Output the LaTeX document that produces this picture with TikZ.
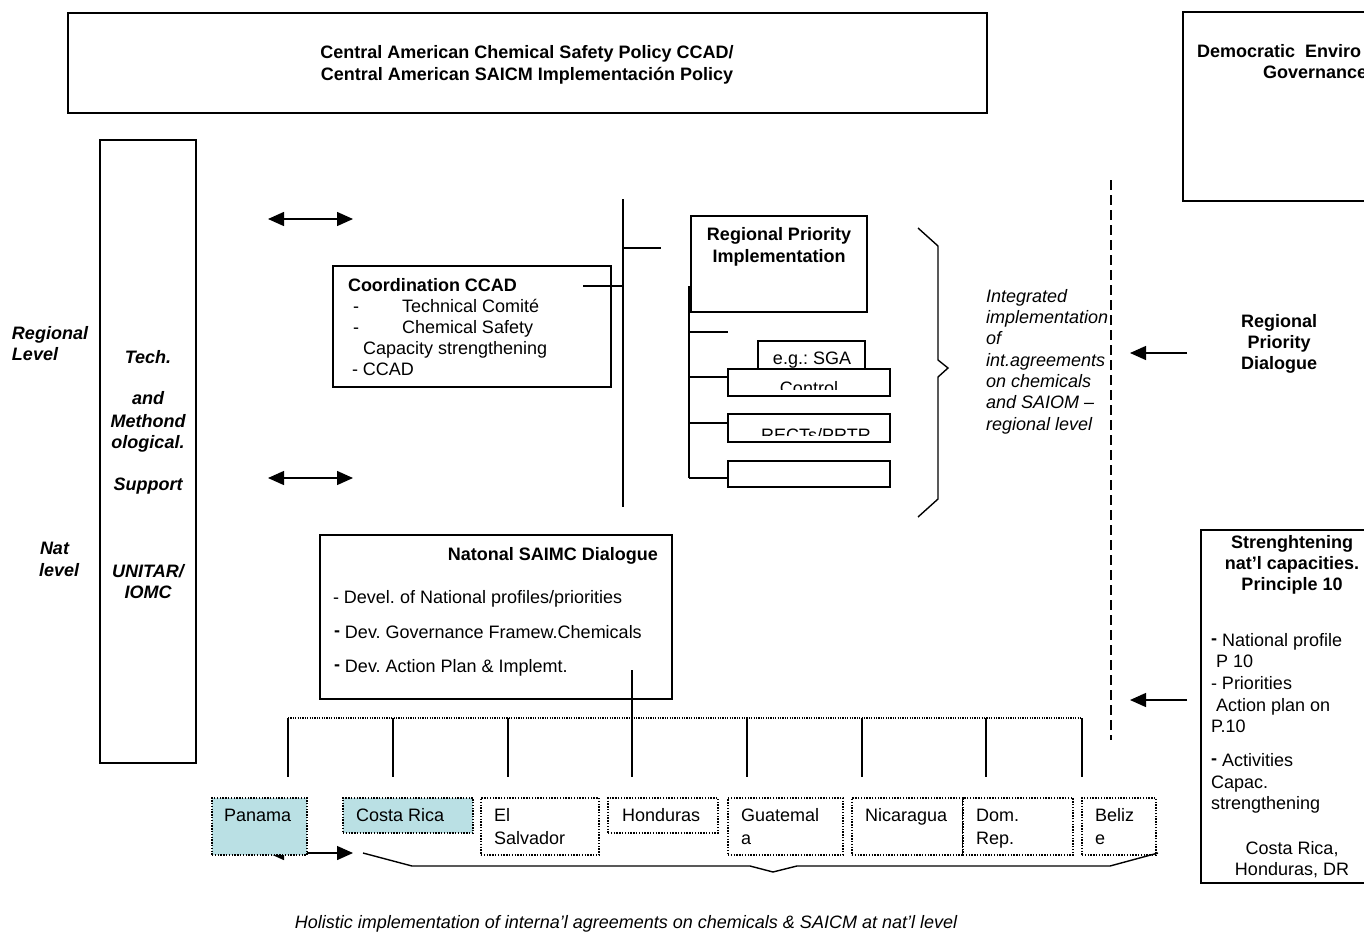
\documentclass[tikz,border=0pt]{standalone}
\usepackage{fontspec}
\setmainfont{Liberation Sans}
\usetikzlibrary{arrows.meta}
\definecolor{cyanbox}{RGB}{186,224,228}
\frenchspacing
\begin{document}
\begin{tikzpicture}[x=1pt,y=-1pt,
  every node/.style={font=\fontsize{18}{21}\selectfont\frenchspacing, inner sep=0pt, outer sep=0pt},
  box/.style={draw, line width=1.4pt, anchor=north west, fill=white},
  dbox/.style={draw, line width=1.3pt, dash pattern=on 1.4pt off 1.4pt, anchor=north west, fill=white},
  ln/.style={line width=1.4pt},
  tipone/.style={line width=1.4pt, -{Triangle[length=16pt,width=14pt]}},
  tiptwo/.style={line width=1.4pt, {Triangle[length=16pt,width=14pt]}-{Triangle[length=16pt,width=14pt]}},
  bft/.style={font=\fontsize{18}{21}\selectfont\frenchspacing\bfseries},
  itt/.style={font=\fontsize{18}{21}\selectfont\frenchspacing\itshape},
  bit/.style={font=\fontsize{18}{21}\selectfont\frenchspacing\bfseries\itshape},
  txt/.style={anchor=base west},
  ctr/.style={anchor=base},
]
\useasboundingbox (0,0) rectangle (1364,943);
\clip (0,0) rectangle (1364,943);

% top box
\node[box, minimum width=919pt, minimum height=100pt] (top) at (68,13) {};
\node[bft, ctr] (t1) at (527,58.5) {Central American Chemical Safety Policy CCAD/};
\node[bft, ctr] (t2) at (527,80.5) {Central American SAICM Implementación Policy};

% democratic box
\node[box, minimum width=220pt, minimum height=189pt] (demo) at (1183,12) {};
\node[bft, txt] (d1) at (1197,57) {Democratic~ Enviro};
\node[bft, txt] (d2) at (1263,78) {Governance};

% left column
\node[box, minimum width=96pt, minimum height=623pt] (tech) at (100,140) {};
\node[bit, ctr] (l1) at (148,363) {Tech.};
\node[bit, ctr] (l2) at (148,404) {and};
\node[bit, ctr] (l3) at (148,427) {Methond};
\node[bit, ctr] (l4) at (148,448) {ological.};
\node[bit, ctr] (l5) at (148,490) {Support};
\node[bit, ctr] (l6) at (148,577) {UNITAR/};
\node[bit, ctr] (l7) at (148,598) {IOMC};
\node[bit, txt] (r1) at (12,339) {Regional};
\node[bit, txt] (r2) at (12,360) {Level};
\node[bit, txt] (n1) at (40,554) {Nat};
\node[bit, txt] (n2) at (39,576) {level};

% double arrows
\coordinate (a1l) at (268,219); \coordinate (a1r) at (353,219);
\coordinate (a2l) at (268,478); \coordinate (a2r) at (353,478);
\draw[tiptwo] (a1l) -- (a1r);
\draw[tiptwo] (a2l) -- (a2r);

% coordination box
\node[box, minimum width=278pt, minimum height=121pt] (coord) at (333,266) {};
\node[bft, txt] (c1) at (348,291) {Coordination CCAD};
\node[txt] (c2a) at (353,312) {-};
\node[txt] (c2) at (402,312) {Technical Comité};
\node[txt] (c3a) at (353,333) {-};
\node[txt] (c3) at (402,333) {Chemical Safety};
\node[txt] (c4) at (363,354) {Capacity strengthening};
\node[txt] (c5) at (352,375) {- CCAD};

% vertical bar
\coordinate (barT) at (623,199);
\coordinate (barB) at (623,507);
\coordinate (barM) at (623,286);
\coordinate (barU) at (623,248);
\coordinate (coordE) at (583,286);
\coordinate (tickE) at (661,248);
\draw[ln] (barT) -- (barB);
\draw[ln] (coordE) -- (barM);
\draw[ln] (barU) -- (tickE);

% regional priority implementation
\node[box, minimum width=176pt, minimum height=96pt] (rpi) at (691,216) {};
\node[bft, ctr] (rp1) at (779,240) {Regional Priority};
\node[bft, ctr] (rp2) at (779,262) {Implementation};

\coordinate (inT) at (689,286);
\coordinate (inB) at (689,478);
\coordinate (i1) at (689,332); \coordinate (i1e) at (728,332);
\coordinate (i2) at (689,377);
\coordinate (i3) at (689,423);
\coordinate (i4e) at (728,478);
\draw[ln] (inT) -- (inB);
\draw[ln] (i1) -- (i1e);

\node[box, minimum width=107pt, minimum height=28pt] (sga) at (758,341) {};
\node[ctr] (sgat) at (812,364) {e.g.: SGA};
\node[box, minimum width=162pt, minimum height=27pt] (ctl) at (728,369) {};
\begin{scope}
  \clip (728,369) rectangle (890,389);
  \node[ctr] (ctlt) at (809,394) {Control};
\end{scope}
\node[box, minimum width=162pt, minimum height=28pt] (rect) at (728,414) {};
\begin{scope}
  \clip (728,414) rectangle (890,435);
  \node[ctr] (rectt) at (816,441) {RECTs/PRTR};
\end{scope}
\node[box, minimum width=162pt, minimum height=26pt] (empt) at (728,461) {};
\draw[ln] (i2) -- (ctl.west |- i2);
\draw[ln] (i3) -- (rect.west |- i3);
\draw[ln] (inB) -- (i4e);

% right brace
\coordinate (b1) at (918,228); \coordinate (b2) at (938,246);
\coordinate (b3) at (938,360); \coordinate (b4) at (948,368);
\coordinate (b5) at (938,377); \coordinate (b6) at (938,499);
\coordinate (b7) at (918,517);
\draw[ln] (b1) -- (b2) -- (b3) -- (b4) -- (b5) -- (b6) -- (b7);

% integrated text
\begin{scope}
  \clip (980,280) rectangle (1109,440);
  \node[itt, txt] (g1) at (986,302) {Integrated};
  \node[itt, txt] (g2) at (986,323) {implementation};
  \node[itt, txt] (g3) at (986,344) {of};
  \node[itt, txt] (g4) at (986,366) {int.agreements};
  \node[itt, txt] (g5) at (986,387) {on chemicals};
  \node[itt, txt] (g6) at (986,408) {and SAIOM –};
  \node[itt, txt] (g7) at (986,430) {regional level};
\end{scope}

% dashed separator
\coordinate (dT) at (1111,180);
\coordinate (dB) at (1111,740);
\draw[line width=1.4pt, dash pattern=on 10pt off 5pt] (dT) -- (dB);

% regional priority dialogue
\node[bft, ctr] (rd1) at (1279,327) {Regional};
\node[bft, ctr] (rd2) at (1279,348) {Priority};
\node[bft, ctr] (rd3) at (1279,369) {Dialogue};
\coordinate (ar1s) at (1187,353); \coordinate (ar1e) at (1130,353);
\draw[tipone] (ar1s) -- (ar1e);

% strengthening box
\node[box, minimum width=184pt, minimum height=353pt] (str) at (1201,530) {};
\node[bft, ctr] (s1) at (1292,548) {Strenghtening};
\node[bft, ctr] (s2) at (1292,569) {nat’l capacities.};
\node[bft, ctr] (s3) at (1292,590) {Principle 10};
\node[txt] (s4) at (1211,646) {\raisebox{1.5pt}{\textbf{-}} National profile};
\node[txt] (s5) at (1216,667) {P 10};
\node[txt] (s6) at (1211,689) {- Priorities};
\node[txt] (s7) at (1216,711) {Action plan on};
\node[txt] (s8) at (1211,732) {P.10};
\node[txt] (s9) at (1211,766) {\raisebox{1.5pt}{\textbf{-}} Activities};
\node[txt] (s10) at (1211,788) {Capac.};
\node[txt] (s11) at (1211,809) {strengthening};
\node[ctr] (s12) at (1292,854) {Costa Rica,};
\node[ctr] (s13) at (1292,875) {Honduras, DR};
\coordinate (ar2s) at (1187,700); \coordinate (ar2e) at (1130,700);
\draw[tipone] (ar2s) -- (ar2e);

% national dialogue
\node[box, minimum width=352pt, minimum height=164pt] (nat) at (320,535) {};
\node[bft, anchor=base east] (na1) at (658,560) {Natonal SAIMC Dialogue};
\node[txt] (na2) at (333,603) {- Devel. of National profiles/priorities};
\node[txt] (na3) at (334,638) {\raisebox{1.5pt}{\textbf{-}} Dev. Governance Framew.Chemicals};
\node[txt] (na4) at (334,672) {\raisebox{1.5pt}{\textbf{-}} Dev. Action Plan \& Implemt.};

% distribution line
\coordinate (hL) at (288,718); \coordinate (hR) at (1082,718);
\draw[line width=1.2pt, dash pattern=on 1.2pt off 1.2pt] (hL) -- (hR);
\coordinate (natS) at (632,670);
\foreach \x/\nm in {288/v1,393/v2,508/v3,747/v5,862/v6,986/v7,1082/v8}{
  \coordinate (\nm t) at (\x,718);
  \coordinate (\nm b) at (\x,777);
  \draw[ln] (\nm t) -- (\nm b);
}
\coordinate (v4b) at (632,777);
\draw[ln] (natS) -- (v4b);

% arrow under Panama (partly hidden)
\coordinate (pa1) at (268,853); \coordinate (pa2) at (353,853);
\draw[tiptwo] (pa1) -- (pa2);

% country boxes
\node[dbox, fill=cyanbox, minimum width=95pt, minimum height=57pt] (pan) at (212,798) {};
\node[txt] (pant) at (224,821) {Panama};
\node[dbox, fill=cyanbox, minimum width=130pt, minimum height=35pt] (cr) at (343,798) {};
\node[txt] (crt) at (356,821) {Costa Rica};
\node[dbox, minimum width=118pt, minimum height=57pt] (es) at (481,798) {};
\node[txt] (es1) at (494,821) {El};
\node[txt] (es2) at (494,844) {Salvador};
\node[dbox, minimum width=110pt, minimum height=35pt] (hon) at (608,798) {};
\node[txt] (hont) at (622,821) {Honduras};
\node[dbox, minimum width=115pt, minimum height=57pt] (gua) at (728,798) {};
\node[txt] (gua1) at (741,821) {Guatemal};
\node[txt] (gua2) at (741,844) {a};
\node[dbox, minimum width=111pt, minimum height=57pt] (nic) at (852,798) {};
\node[txt] (nict) at (865,821) {Nicaragua};
\node[dbox, minimum width=110pt, minimum height=57pt] (dom) at (963,798) {};
\node[txt] (dom1) at (976,821) {Dom.};
\node[txt] (dom2) at (976,844) {Rep.};
\node[dbox, minimum width=74pt, minimum height=57pt] (bel) at (1082,798) {};
\node[txt] (bel1) at (1095,821) {Beliz};
\node[txt] (bel2) at (1095,844) {e};

% bottom brace
\coordinate (q1) at (363,853); \coordinate (q2) at (412,866);
\coordinate (q3) at (750,866); \coordinate (q4) at (773,872);
\coordinate (q5) at (797,866); \coordinate (q6) at (1110,866);
\coordinate (q7) at (1158,853);
\draw[ln] (q1) -- (q2) -- (q3) -- (q4) -- (q5) -- (q6) -- (q7);

\node[itt, ctr] (hol) at (626,928) {Holistic implementation of interna’l agreements on chemicals \& SAICM at nat’l level};
\end{tikzpicture}
\end{document}
